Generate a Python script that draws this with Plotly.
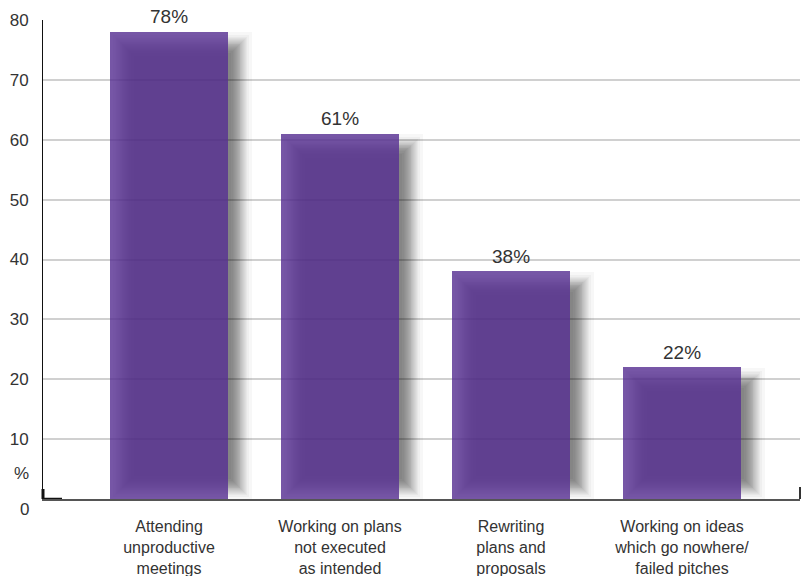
from statistics import NormalDist

import plotly.graph_objects as go

# Data
categories = [
    "Attending<br>unproductive<br>meetings",
    "Working on plans<br>not executed<br>as intended",
    "Rewriting<br>plans and<br>proposals",
    "Working on ideas<br>which go nowhere/<br>failed pitches",
]
values = [78, 61, 38, 22]
y_tick_values = [10, 20, 30, 40, 50, 60, 70, 80]
y_tick_labels = ["10", "20", "30", "40", "50", "60", "70", "80"]

# Layout geometry
W, H = 812, 576
M = dict(l=43, r=12, t=20, b=77)
X_RANGE = [-0.737, 3.69]
Y_RANGE = [0, 80]
px_x = (W - M["l"] - M["r"]) / (X_RANGE[1] - X_RANGE[0])
px_y = (H - M["t"] - M["b"]) / (Y_RANGE[1] - Y_RANGE[0])
BAR_PX = 118

FONT = "Liberation Sans, Arial, sans-serif"
TEXT = "#333333"

xs = list(range(len(values)))
fig = go.Figure()

# Soft drop shadow: translucent layers grown by gaussian quantiles
off_x, off_y, sigma, n = 12, 12, 6.0, 20
bottom_lift = 11  # shadow ends a little above the baseline
core = 0.48
alpha = 1 - (1 - core) ** (1 / n)
nd = NormalDist()
for k in range(n):
    e = sigma * nd.inv_cdf((k + 0.5) / n)
    tops = [v - (off_y - e) / px_y for v in values]
    bot = (bottom_lift - e) / px_y
    fig.add_trace(go.Bar(
        x=[x + off_x / px_x for x in xs],
        y=[t - bot for t in tops],
        base=bot,
        width=(BAR_PX + 2 * e) / px_x,
        marker=dict(color=f"rgba(0,0,0,{alpha:.4f})", line_width=0),
        hoverinfo="skip", showlegend=False, cliponaxis=False,
    ))

# Faint shadow spilling below the baseline
for k in range(6):
    e = k * 2.5
    fig.add_trace(go.Bar(
        x=[x + 8 / px_x for x in xs],
        y=[(6 + e) / px_y] * len(xs),
        base=-(6 + e) / px_y,
        width=(BAR_PX + 10 + 2 * e) / px_x,
        marker=dict(color="rgba(0,0,0,0.018)", line_width=0),
        hoverinfo="skip", showlegend=False, cliponaxis=False,
    ))

# Main bars (translucent so the shadow and grid show through)
fig.add_trace(go.Bar(
    x=xs, y=values, width=BAR_PX / px_x,
    marker=dict(color="rgba(89,50,148,0.82)", line_width=0),
    hoverinfo="skip", showlegend=False,
))

# Value labels above bars
for x, v in zip(xs, values):
    fig.add_annotation(
        x=x, y=v, text=f"{v}%", showarrow=False, yshift=15,
        font=dict(family=FONT, size=19, color=TEXT),
        xanchor="center", yanchor="middle",
    )

# "%" unit and zero label on the value axis
fig.add_annotation(x=0, xref="paper", y=4.2, text="%", showarrow=False,
                   xanchor="right", xshift=-12, yanchor="middle",
                   font=dict(family=FONT, size=17, color=TEXT))
fig.add_annotation(x=0, xref="paper", y=0, text="0", showarrow=False,
                   xanchor="right", xshift=-12, yanchor="middle", yshift=-10,
                   font=dict(family=FONT, size=17, color=TEXT))

# Small end tick on the right of the baseline and corner accent
fig.add_shape(type="line", xref="paper", yref="y", x0=1, x1=1,
              y0=0, y1=12 / px_y, line=dict(color="#333333", width=2))
fig.add_shape(type="line", xref="paper", yref="y", x0=0, x1=0,
              y0=0, y1=10 / px_y, line=dict(color="#111111", width=3))
fig.add_shape(type="line", xref="x", yref="y", x0=X_RANGE[0], x1=X_RANGE[0] + 19 / px_x,
              y0=0, y1=0, line=dict(color="#111111", width=2.5))

fig.update_layout(
    width=W, height=H,
    margin=M,
    paper_bgcolor="white", plot_bgcolor="white",
    barmode="overlay", bargap=0,
    font=dict(family=FONT, size=16, color=TEXT),
    xaxis=dict(
        range=X_RANGE, tickvals=xs, ticktext=categories,
        showgrid=False, zeroline=False, automargin=False,
        showline=True, linecolor="#555555", linewidth=2,
        ticks="outside", ticklen=12, tickcolor="rgba(0,0,0,0)",
        tickfont=dict(family=FONT, size=16, color=TEXT),
        fixedrange=True,
    ),
    yaxis=dict(
        range=Y_RANGE, tickvals=y_tick_values, ticktext=y_tick_labels,
        showgrid=True, gridcolor="#d0d0d0", gridwidth=1.5,
        zeroline=False, automargin=False,
        showline=True, linecolor="#111111", linewidth=1,
        ticks="", ticklabelstandoff=10,
        tickfont=dict(family=FONT, size=17, color=TEXT),
        fixedrange=True,
    ),
)

fig.write_html("out.html", config={"displayModeBar": False})
